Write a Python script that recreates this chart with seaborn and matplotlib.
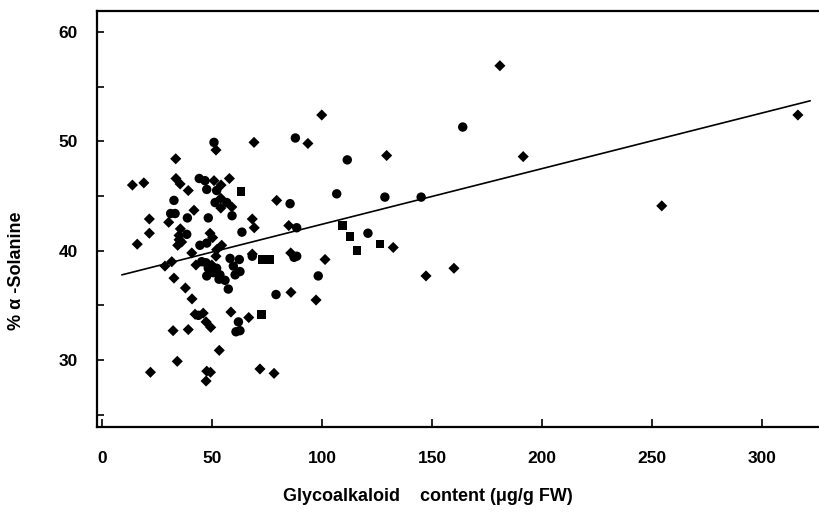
import numpy as np
import pandas as pd
import matplotlib
matplotlib.use("Agg")
import matplotlib.pyplot as plt
import seaborn as sns
from matplotlib.ticker import MultipleLocator

# values
diamond_x = [33.5, 13.8, 19.0, 33.6, 35.5, 39.2, 41.8, 30.3, 21.5, 21.5, 35.6, 35.0, 35.0, 36.2,
             34.4, 16.0, 49.1, 50.3, 40.8, 31.7, 28.6, 42.7, 32.7, 37.9, 40.9, 42.3, 46.0, 47.3,
             49.4, 32.3, 39.2, 34.2, 22.0, 47.6, 49.3, 47.3, 51.8, 85.9, 58.6, 66.7, 53.3, 71.8,
             78.2, 51.8, 69.1, 93.6, 50.9, 57.9, 54.1, 54.0, 59.0, 54.0, 79.4, 68.3, 69.2, 84.9,
             54.4, 52.1, 68.3, 85.8, 49.9, 99.9, 129.4, 191.5, 132.4, 101.4, 147.3, 160.0, 97.3,
             180.9, 254.5, 316.4]
diamond_y = [48.4, 46.0, 46.2, 46.6, 46.1, 45.5, 43.7, 42.6, 42.9, 41.6, 42.0, 41.4, 41.0, 40.8,
             40.5, 40.6, 41.6, 41.2, 39.8, 39.0, 38.6, 38.7, 37.5, 36.6, 35.6, 34.2, 34.3, 33.5,
             33.0, 32.7, 32.8, 29.9, 28.9, 29.0, 28.9, 28.1, 39.5, 36.2, 34.4, 33.9, 30.9, 29.2,
             28.8, 49.2, 49.9, 49.8, 46.4, 46.6, 46.0, 44.8, 44.0, 43.9, 44.6, 42.9, 42.1, 42.3,
             40.5, 40.1, 39.7, 39.8, 38.7, 52.4, 48.7, 48.6, 40.3, 39.2, 37.7, 38.4, 35.5,
             56.9, 44.1, 52.4]

circle_x = [44.2, 46.8, 47.6, 32.7, 31.2, 33.2, 38.8, 48.3, 38.5, 44.5, 47.6, 45.3, 47.3, 47.6,
            43.8, 58.2, 62.4, 68.3, 87.3, 48.3, 50.6, 53.6, 55.9, 59.7, 60.5, 57.4, 79.1, 62.0,
            60.9, 62.7, 50.9, 87.9, 52.1, 51.4, 56.7, 85.5, 59.1, 63.6, 88.5, 88.5, 52.1, 53.2,
            62.7, 111.5, 164.0, 106.7, 128.6, 145.1, 120.9, 98.3]
circle_y = [46.6, 46.4, 45.6, 44.6, 43.4, 43.4, 43.0, 43.0, 41.5, 40.5, 40.7, 39.0, 38.9, 37.7,
            34.1, 39.3, 39.2, 39.5, 39.4, 38.4, 38.0, 37.8, 37.3, 38.6, 37.8, 36.5, 36.0, 33.5,
            32.6, 32.7, 49.9, 50.3, 45.5, 44.4, 44.4, 44.3, 43.2, 41.7, 42.1, 39.5, 38.4, 37.4,
            38.1, 48.3, 51.3, 45.2, 44.9, 44.9, 41.6, 37.7]

square_x = [73.0, 76.4, 72.6, 63.2, 109.4, 112.7, 126.4, 116.0]
square_y = [39.2, 39.2, 34.2, 45.4, 42.3, 41.3, 40.6, 40.0]

# fitted regression line
fit_intercept = 37.34
fit_slope = 0.0508
fit_range = [9, 322]

df = pd.DataFrame({
    "x": diamond_x + circle_x + square_x,
    "y": diamond_y + circle_y + square_y,
    "group": ["D"] * len(diamond_x) + ["o"] * len(circle_x) + ["s"] * len(square_x),
})

line_x = np.array(fit_range)
line_y = fit_intercept + fit_slope * line_x

sns.set_style("ticks")
plt.rcParams["font.family"] = ["Liberation Sans", "DejaVu Sans"]
plt.rcParams["font.weight"] = "bold"
plt.rcParams["text.color"] = "black"
plt.rcParams["axes.labelcolor"] = "black"
plt.rcParams["xtick.color"] = "black"
plt.rcParams["ytick.color"] = "black"

fig = plt.figure(figsize=(8.19, 5.18), dpi=100)
ax = fig.add_axes([97 / 819, 91 / 518, 722 / 819, 416 / 518])

sns.scatterplot(data=df, x="x", y="y", style="group", size="group",
                markers={"D": "D", "o": "o", "s": "s"},
                sizes={"D": 32, "o": 46, "s": 38},
                color="black", edgecolor="black", linewidth=0,
                legend=False, ax=ax)
sns.lineplot(x=line_x, y=line_y, color="black", linewidth=1.2, ax=ax)

ax.set_xlim(-2.3, 326)
ax.set_ylim(23.9, 61.9)
ax.set_xticks([0, 50, 100, 150, 200, 250, 300])
ax.set_yticks([30, 40, 50, 60])
ax.yaxis.set_minor_locator(MultipleLocator(5))

ax.spines["right"].set_visible(False)
for side in ["left", "bottom", "top"]:
    ax.spines[side].set_linewidth(1.6)
    ax.spines[side].set_color("black")

ax.tick_params(axis="x", which="major", direction="in", length=6, width=1.2,
               pad=17, labelsize=12.5)
ax.tick_params(axis="y", which="both", direction="in", length=5, width=1.2,
               pad=14, labelsize=12.5)

ax.set_xlabel("Glycoalkaloid    content (\u03bcg/g FW)", fontsize=13, fontweight="bold")
ax.set_ylabel("% \u03b1 -Solanine", fontsize=13, fontweight="bold")
ax.xaxis.set_label_coords(0.458, -0.147)
ax.yaxis.set_label_coords(-0.100, 0.375)

fig.savefig("out.png", dpi=100)
